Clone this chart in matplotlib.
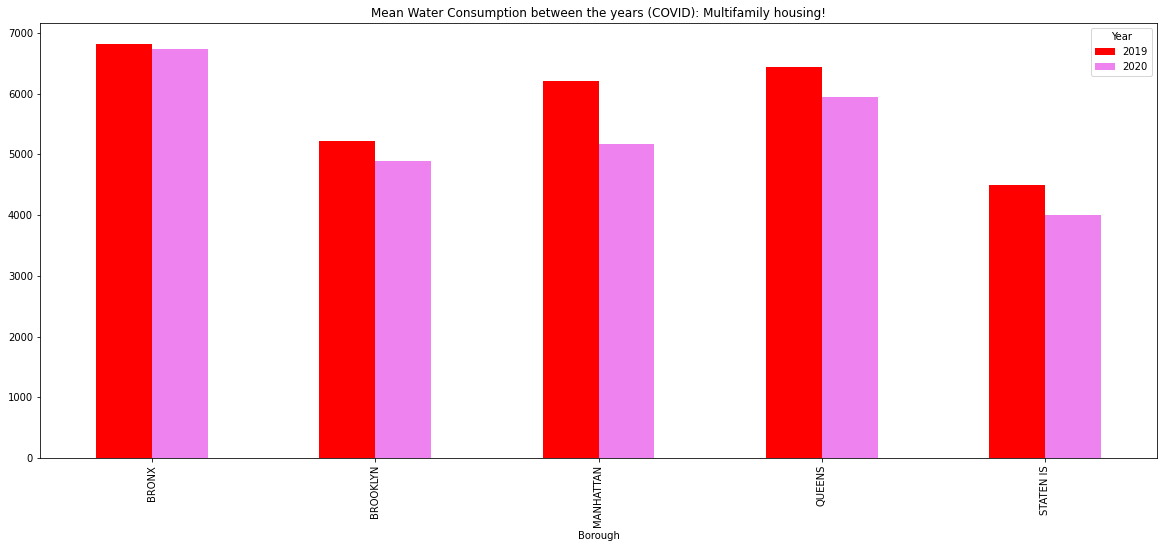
import matplotlib
matplotlib.use("Agg")
import matplotlib.pyplot as plt
import numpy as np

boroughs = ["BRONX", "BROOKLYN", "MANHATTAN", "QUEENS", "STATEN IS"]
y2019 = [6820, 5220, 6210, 6440, 4490]
y2020 = [6730, 4890, 5170, 5950, 4000]

W, H = 1162, 548
fig = plt.figure(figsize=(W/72, H/72), dpi=72)
ax = fig.add_axes([40/W, 1-458/H, (1157-40)/W, (458-23)/H])
x = np.arange(len(boroughs))
w = 0.25
ax.bar(x - w/2, y2019, w, color="red", label="2019")
ax.bar(x + w/2, y2020, w, color="violet", label="2020")
ax.set_xticks(x)
ax.set_xticklabels(boroughs, rotation=90)
ax.set_xlim(-0.5, len(boroughs) - 0.5)
ax.set_ylim(0, 7165)
ax.set_xlabel("Borough")
ax.set_title("Mean Water Consumption between the years (COVID): Multifamily housing!")
ax.legend(title="Year", loc="upper right")
fig.savefig("out.png", dpi=72)
